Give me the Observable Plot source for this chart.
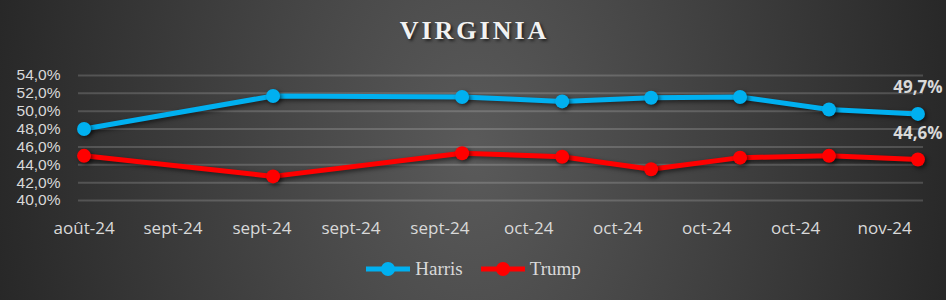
<!DOCTYPE html>
<html>
<head>
<meta charset="utf-8">
<script src="https://cdn.jsdelivr.net/npm/d3@7"></script>
<script src="https://cdn.jsdelivr.net/npm/@observablehq/plot@0.6"></script>
<style>
  html, body { margin: 0; padding: 0; background: #262626; }
  #chart {
    position: relative; width: 946px; height: 300px; overflow: hidden;
    background: radial-gradient(ellipse 500px 750px at 50% 50%, #5a5a5a 0%, #262626 100%);
  }
  #title {
    position: absolute; top: 4px; left: 0; width: 946px; height: 54px; line-height: 54px;
    text-align: center; font-family: "Liberation Serif", "DejaVu Serif", serif; font-weight: bold;
    font-size: 26px; letter-spacing: 3px; padding-left: 3px; box-sizing: border-box;
    color: #f2f2f2; text-shadow: 2px 2px 3px rgba(0,0,0,0.6);
  }
  #plot { position: absolute; top: 58px; left: 0; }
  #legend {
    position: absolute; top: 257px; left: 0; width: 946px; height: 24px;
    display: flex; justify-content: center; align-items: center; gap: 17px;
    font-family: "Liberation Serif", "DejaVu Serif", serif; font-size: 19px; color: #d9d9d9;
  }
  .item { display: flex; align-items: center; }
  .item span { margin-left: 4px; }
  #plot g[aria-label="line"] { filter: drop-shadow(2px 2px 2px rgba(0,0,0,0.55)); }
  #plot g[aria-label="dot"] { filter: drop-shadow(2px 2px 2px rgba(0,0,0,0.55)); }
</style>
</head>
<body>
<div id="chart">
  <div id="title">VIRGINIA</div>
  <div id="plot"></div>
  <div id="legend"></div>
</div>
<script>
const title = "VIRGINIA";
const seriesNames = ["Harris", "Trump"];
const seriesColors = ["#00b0f0", "#ff0000"];
const dates = ["2024-08-25", "2024-09-11", "2024-09-28", "2024-10-07", "2024-10-15", "2024-10-23", "2024-10-31", "2024-11-08"];
const harris = [48.0, 51.7, 51.6, 51.1, 51.5, 51.6, 50.2, 49.7];
const trump = [45.0, 42.7, 45.3, 44.9, 43.5, 44.8, 45.0, 44.6];
const tickDates = ["2024-08-25", "2024-09-02", "2024-09-10", "2024-09-18", "2024-09-26", "2024-10-04", "2024-10-12", "2024-10-20", "2024-10-28", "2024-11-05"];
const tickLabels = ["août-24", "sept-24", "sept-24", "sept-24", "sept-24", "oct-24", "oct-24", "oct-24", "oct-24", "nov-24"];
const yTicks = [40, 42, 44, 46, 48, 50, 52, 54];

document.getElementById("title").textContent = title;

const rows = [];
[harris, trump].forEach((vals, s) => {
  vals.forEach((v, i) => rows.push({series: seriesNames[s], date: new Date(dates[i]), value: v, last: i === vals.length - 1}));
});

const labelOf = new Map(tickDates.map((d, i) => [+new Date(d), tickLabels[i]]));
const fmtPct = d => d.toFixed(1).replace(".", ",") + "%";
const t0 = new Date(dates[0]), t1 = new Date(dates[dates.length - 1]);
const halfDay = 12 * 3600 * 1000;
const xTicks = tickDates.map(d => new Date(d));

const chart = Plot.plot({
  width: 946,
  height: 182,
  marginLeft: 78,
  marginRight: 23,
  marginTop: 17,
  marginBottom: 40,
  style: {background: "transparent", color: "#d9d9d9", fontFamily: "'Open Sans', sans-serif", fontSize: "16px"},
  x: {
    type: "utc",
    domain: [new Date(+t0 - halfDay), new Date(+t1 + halfDay)],
    label: null
  },
  y: {
    domain: [40, 54],
    label: null
  },
  color: {domain: seriesNames, range: seriesColors},
  marks: [
    Plot.ruleY(yTicks, {stroke: "white", strokeOpacity: 0.17, strokeWidth: 2}),
    Plot.axisY({ticks: yTicks, tickFormat: fmtPct, tickSize: 0, tickPadding: 18, fontSize: 15.5, fontFamily: "'Liberation Sans', sans-serif", label: null}),
    Plot.axisX({ticks: xTicks, tickFormat: d => labelOf.get(+d), tickSize: 0, tickPadding: 21, fontSize: 17, label: null}),
    Plot.line(rows, {x: "date", y: "value", z: "series", stroke: "series", strokeWidth: 5, curve: "linear"}),
    Plot.dot(rows, {x: "date", y: "value", fill: "series", r: 7}),
    Plot.text(rows.filter(d => d.last), {x: "date", y: "value", text: d => fmtPct(d.value), dy: -26, fill: "#d9d9d9", fontWeight: "bold", fontSize: 17})
  ]
});
document.getElementById("plot").appendChild(chart);

const legend = document.getElementById("legend");
seriesNames.forEach((name, i) => {
  const item = document.createElement("div");
  item.className = "item";
  item.innerHTML = `<svg width="46" height="16"><line x1="1" y1="8" x2="45" y2="8" stroke="${seriesColors[i]}" stroke-width="5"/><circle cx="23" cy="8" r="7" fill="${seriesColors[i]}"/></svg><span>${name}</span>`;
  legend.appendChild(item);
});
</script>
</body>
</html>
